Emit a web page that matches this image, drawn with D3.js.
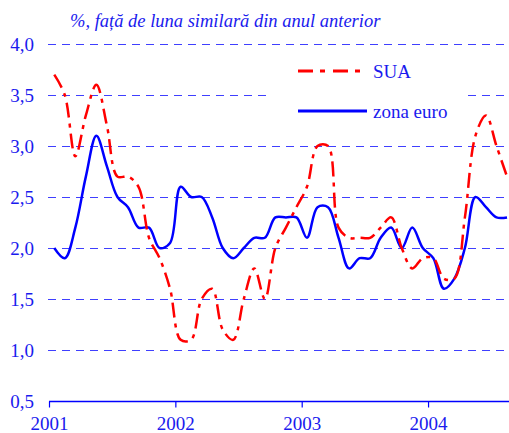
<!DOCTYPE html>
<html>
<head>
<meta charset="utf-8">
<script src="https://cdn.jsdelivr.net/npm/d3@7"></script>
<style>
  body { margin: 0; background: #fff; }
  svg { display: block; }
  text { font-family: "Liberation Serif", "Times New Roman", serif; }
</style>
</head>
<body>
<svg width="509" height="433"></svg>
<script>
// monthly, Jan 2001 .. Aug 2004
const years = ["2001", "2002", "2003", "2004"];
const yTicks = [0.5, 1.0, 1.5, 2.0, 2.5, 3.0, 3.5, 4.0];

const sua = [3.7, 3.5, 2.9, 3.3, 3.6, 3.2, 2.7, 2.7, 2.6, 2.1, 1.9, 1.6,
             1.1, 1.1, 1.5, 1.6, 1.2, 1.1, 1.5, 1.8, 1.5, 2.0, 2.2, 2.4,
             2.6, 3.0, 3.0, 2.2, 2.1, 2.1, 2.1, 2.2, 2.3, 2.0, 1.8, 1.9,
             1.9, 1.7, 1.7, 2.3, 3.1, 3.3, 3.0, 2.7];
const zonaEuro = [2.0, 1.9, 2.2, 2.7, 3.1, 2.8, 2.5, 2.4, 2.2, 2.2, 2.0, 2.05,
                  2.6, 2.5, 2.5, 2.3, 2.0, 1.9, 2.0, 2.1, 2.1, 2.3, 2.3, 2.3,
                  2.1, 2.4, 2.4, 2.1, 1.8, 1.9, 1.9, 2.1, 2.2, 2.0, 2.2, 2.0,
                  1.9, 1.6, 1.7, 2.0, 2.5, 2.4, 2.3, 2.3];

const blue = "#0000ff", red = "#ff0000", txt = "#1a1aee";
const svg = d3.select("svg");

const x = d3.scaleLinear().domain([0, 48]).range([49, 554.4]);
const y = d3.scaleLinear().domain([0.5, 4.0]).range([401, 44]);

// gridlines
svg.append("g").selectAll("line")
  .data(yTicks.filter(d => d > 0.5))
  .enter().append("line")
  .attr("x1", 48).attr("x2", 509)
  .attr("y1", d => Math.round(y(d)) + 0.5).attr("y2", d => Math.round(y(d)) + 0.5)
  .attr("stroke", "#3f3fff")
  .attr("stroke-width", 1)
  .attr("stroke-dasharray", "8,6");

// y labels
svg.append("g").selectAll("text")
  .data(yTicks)
  .enter().append("text")
  .attr("x", 34).attr("y", d => y(d) + 6.5)
  .attr("text-anchor", "end")
  .attr("font-size", "19px")
  .attr("fill", txt)
  .text(d => d3.format(".1f")(d).replace(".", ","));

// x axis
const xaxis = d3.axisBottom(x)
  .tickValues([0, 12, 24, 36])
  .tickSize(6)
  .tickFormat((d, i) => years[i]);
const ax = svg.append("g").attr("transform", "translate(0,401.5)").call(xaxis);
ax.select(".domain").attr("stroke", blue).attr("stroke-width", 1.3).attr("d", "M49,0H509");
ax.selectAll(".tick line").attr("stroke", blue).attr("stroke-width", 1.2);
ax.selectAll(".tick text")
  .attr("fill", txt)
  .attr("font-size", "19px")
  .attr("font-family", "Liberation Serif, serif")
  .attr("y", 28.5)
  .attr("dy", 0);

// title
svg.append("text")
  .attr("x", 70).attr("y", 27)
  .attr("font-size", "18.5px")
  .attr("font-style", "italic")
  .attr("fill", txt)
  .text("%, față de luna similară din anul anterior");

// legend box (hides gridline behind)
svg.append("rect")
  .attr("x", 272).attr("y", 52).attr("width", 195).attr("height", 78)
  .attr("fill", "#fff");

const line = d3.line()
  .x((d, i) => x(i + 0.5))
  .y(d => y(d))
  .curve(d3.curveCatmullRom.alpha(0.5));

svg.append("path")
  .datum(zonaEuro)
  .attr("d", line)
  .attr("fill", "none")
  .attr("stroke", blue)
  .attr("stroke-width", 2.5);

svg.append("path")
  .datum(sua)
  .attr("d", line)
  .attr("fill", "none")
  .attr("stroke", red)
  .attr("stroke-width", 2.5)
  .attr("stroke-dasharray", "15,6,4,6");

// legend
const legend = [
  {name: "SUA", color: red, dash: "15,7,5,8", ly: 71},
  {name: "zona euro", color: blue, dash: null, ly: 111}
];
legend.forEach(l => {
  svg.append("line")
    .attr("x1", 298).attr("x2", 367)
    .attr("y1", l.ly).attr("y2", l.ly)
    .attr("stroke", l.color).attr("stroke-width", 3)
    .attr("stroke-dasharray", l.dash);
  svg.append("text")
    .attr("x", 373).attr("y", l.ly + 7)
    .attr("font-size", "19px")
    .attr("fill", txt)
    .text(l.name);
});
</script>
</body>
</html>
